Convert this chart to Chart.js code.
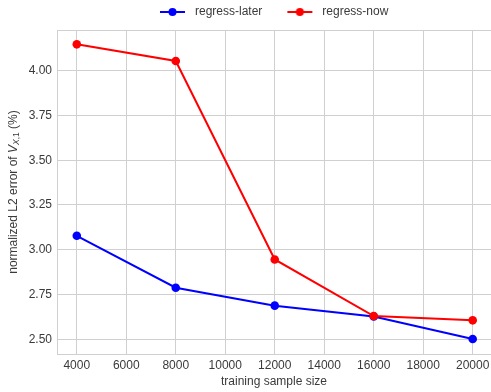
<!DOCTYPE html>
<html>
<head>
<meta charset="utf-8">
<script src="https://cdn.jsdelivr.net/npm/chart.js@4/dist/chart.umd.min.js"></script>
<style>
html,body{margin:0;padding:0;background:#fff;overflow:hidden;}
#c{display:block;}
</style>
</head>
<body>
<canvas id="c" width="491" height="392"></canvas>
<script>
const categories = [4000, 8000, 12000, 16000, 20000];
const regressLater = [3.078, 2.788, 2.688, 2.627, 2.502];
const regressNow = [4.147, 4.054, 2.946, 2.630, 2.606];
const seriesNames = ['regress-later', 'regress-now'];
const seriesColors = ['#0000ff', '#ff0000'];
const xTicks = [4000, 6000, 8000, 10000, 12000, 14000, 16000, 18000, 20000];
const yTicks = [2.50, 2.75, 3.00, 3.25, 3.50, 3.75, 4.00];
const xTitle = 'training sample size';

const FONT = "'Liberation Sans', Arial, sans-serif";
const FS = 12;
const TEXT = '#3a3a3a';
const GRID = '#d0d0d0';
const LEG_PAD = 6;
const LEG_W = 48;
const LEG_X = 141;

function legendIcon(color) {
  const c = document.createElement('canvas');
  c.width = LEG_W; c.height = 10;
  const g = c.getContext('2d');
  g.strokeStyle = color; g.lineWidth = 2;
  g.beginPath(); g.moveTo(LEG_W - 29, 5); g.lineTo(LEG_W - 4, 5); g.stroke();
  g.fillStyle = color;
  g.beginPath(); g.arc(LEG_W - 16.5, 5, 4, 0, Math.PI * 2); g.fill();
  return c;
}

function zeroPad() {
  this.paddingLeft = 0; this.paddingRight = 0;
  this.paddingTop = 0; this.paddingBottom = 0;
}

const legendFix = {
  id: 'legendFix',
  beforeLayout(chart) {
    const leg = chart.legend;
    if (leg && !leg._patched) {
      const orig = leg.fit.bind(leg);
      leg.fit = function () {
        orig();
        this.height = 30;
      };
      leg._patched = true;
    }
    Object.values(chart.scales).forEach(s => { s._calculatePadding = zeroPad; });
  },
  afterLayout(chart) {
    const leg = chart.legend;
    if (leg && leg.lineWidths) {
      leg.lineWidths[0] = leg.left + LEG_PAD + leg.right - 2 * LEG_X;
    }
  }
};

const frame = {
  id: 'frame',
  beforeDatasetsDraw(chart) {
    const a = chart.chartArea, ctx = chart.ctx;
    ctx.save();
    ctx.strokeStyle = GRID; ctx.lineWidth = 1;
    ctx.beginPath();
    ctx.moveTo(a.left, a.top + 0.5); ctx.lineTo(a.right, a.top + 0.5);
    ctx.stroke();
    ctx.restore();
  },
  afterDraw(chart) {
    const a = chart.chartArea, ctx = chart.ctx;
    const segs = [
      {t: 'normalized L2 error of ', f: FS + 'px ' + FONT, dy: 0},
      {t: 'V', f: 'italic ' + FS + 'px ' + FONT, dy: 0},
      {t: 'X', f: 'italic 8.5px ' + FONT, dy: 3},
      {t: ',1', f: '8.5px ' + FONT, dy: 3},
      {t: ' (%)', f: FS + 'px ' + FONT, dy: 0}
    ];
    ctx.save();
    let total = 0;
    segs.forEach(s => { ctx.font = s.f; s.w = ctx.measureText(s.t).width; total += s.w; });
    ctx.translate(14, (a.top + a.bottom) / 2);
    ctx.rotate(-Math.PI / 2);
    ctx.fillStyle = TEXT;
    ctx.textBaseline = 'middle';
    ctx.textAlign = 'left';
    let x = -total / 2;
    segs.forEach(s => { ctx.font = s.f; ctx.fillText(s.t, x, s.dy); x += s.w; });
    ctx.restore();
  }
};

const seriesValues = [regressLater, regressNow];
const datasets = seriesValues.map((vals, i) => ({
  label: seriesNames[i],
  data: categories.map((x, j) => ({x: x, y: vals[j]})),
  borderColor: seriesColors[i],
  backgroundColor: seriesColors[i],
  borderWidth: 2,
  pointRadius: 4.3,
  pointBorderWidth: 0,
  pointHoverRadius: 4.3,
  tension: 0,
  clip: false,
  order: seriesValues.length - i
}));

new Chart(document.getElementById('c'), {
  type: 'line',
  data: {datasets},
  plugins: [legendFix, frame],
  options: {
    responsive: false,
    animation: false,
    events: [],
    layout: {autoPadding: false, padding: {left: 0, right: 0, top: 0, bottom: 0}},
    plugins: {
      tooltip: {enabled: false},
      legend: {
        position: 'top',
        align: 'center',
        labels: {
          usePointStyle: true,
          pointStyleWidth: LEG_W,
          boxHeight: 10,
          padding: LEG_PAD,
          color: TEXT,
          font: {family: FONT, size: FS},
          generateLabels(chart) {
            return chart.data.datasets.map((d, i) => ({
              text: d.label,
              pointStyle: legendIcon(seriesColors[i]),
              fillStyle: seriesColors[i],
              strokeStyle: seriesColors[i],
              lineWidth: 0,
              fontColor: TEXT,
              hidden: false,
              datasetIndex: i
            }));
          }
        }
      }
    },
    scales: {
      x: {
        type: 'linear',
        min: 3200,
        max: 20740,
        afterFit(s) { s.height = 38; },
        afterBuildTicks(s) { s.ticks = xTicks.map(v => ({value: v})); },
        grid: {color: GRID, lineWidth: 1, drawTicks: false},
        border: {color: GRID, width: 1},
        ticks: {
          color: TEXT, font: {family: FONT, size: FS}, padding: 4,
          maxRotation: 0, autoSkip: false,
          callback: v => String(v)
        },
        title: {
          display: true, text: xTitle, color: TEXT,
          font: {family: FONT, size: FS}, padding: {top: 0, bottom: 3}
        }
      },
      y: {
        type: 'linear',
        min: 2.418,
        max: 4.227,
        afterFit(s) { s.width = 57; },
        afterBuildTicks(s) { s.ticks = yTicks.map(v => ({value: v})); },
        grid: {color: GRID, lineWidth: 1, drawTicks: false},
        border: {color: GRID, width: 1},
        ticks: {
          color: TEXT, font: {family: FONT, size: FS}, padding: 5,
          autoSkip: false,
          callback: v => Number(v).toFixed(2)
        }
      }
    }
  }
});
</script>
</body>
</html>
